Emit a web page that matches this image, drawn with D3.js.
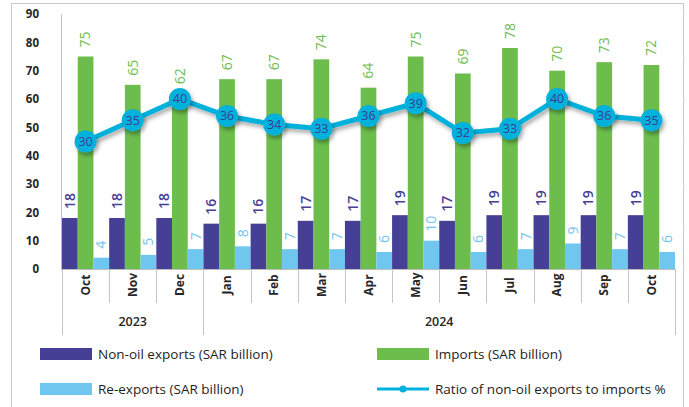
<!DOCTYPE html>
<html>
<head>
<meta charset="utf-8">
<script src="https://cdn.jsdelivr.net/npm/d3@7"></script>
<style>
    body { margin: 0; background: #fff; }
    text { font-family: "Open Sans", "Noto Sans", sans-serif; }
</style>
</head>
<body>
<div id="chart"></div>
<script>
// dữ liệu
const months = ["Oct", "Nov", "Dec", "Jan", "Feb", "Mar", "Apr", "May", "Jun", "Jul", "Aug", "Sep", "Oct"];
const years = [{ label: "2023", from: 0, to: 3 }, { label: "2024", from: 3, to: 13 }];
const nonOilExports = [18, 18, 18, 16, 16, 17, 17, 19, 17, 19, 19, 19, 19];
const imports = [75, 65, 62, 67, 67, 74, 64, 75, 69, 78, 70, 73, 72];
const reExports = [4, 5, 7, 8, 7, 7, 6, 10, 6, 7, 9, 7, 6];
const ratio = [30, 35, 40, 36, 34, 33, 36, 39, 32, 33, 40, 36, 35];
const yTicks = [0, 10, 20, 30, 40, 50, 60, 70, 80, 90];

const series = [
    { name: "Non-oil exports (SAR billion)", values: nonOilExports, color: "#463f96", label: "#463f96", weight: 600 },
    { name: "Imports (SAR billion)", values: imports, color: "#6dbd4c", label: "#6dbd4c", weight: 400 },
    { name: "Re-exports (SAR billion)", values: reExports, color: "#6fc6ef", label: "#6fc6ef", weight: 400 }
];
const lineColor = "#00b1dc";

const width = 689, height = 407;
const plotLeft = 62, plotRight = 675, plotTop = 14, base = 269;

const svg = d3.select("#chart")
    .append("svg")
    .attr("width", width)
    .attr("height", height);

const defs = svg.append("defs");
const shadow = defs.append("filter").attr("id", "shadow")
    .attr("x", "-50%").attr("y", "-50%").attr("width", "200%").attr("height", "200%");
shadow.append("feDropShadow")
    .attr("dx", 2).attr("dy", 3).attr("stdDeviation", 2)
    .attr("flood-color", "#000").attr("flood-opacity", 0.35);

// khung ngoài
svg.append("rect")
    .attr("x", 11.5).attr("y", 3.5)
    .attr("width", 672).attr("height", 420)
    .attr("fill", "none")
    .attr("stroke", "#c9c9c9");

const x = d3.scaleBand()
    .domain(d3.range(months.length))
    .range([plotLeft, plotRight])
    .padding(0);

const xInner = d3.scaleBand()
    .domain(d3.range(series.length))
    .range([0, x.bandwidth()])
    .padding(0);

const y = d3.scaleLinear().domain([0, 90]).range([base, plotTop]);
const yRight = d3.scaleLinear().domain([0, 60]).range([base, plotTop]);

// trục y bên trái
const yAxis = svg.append("g")
    .attr("transform", `translate(${plotLeft - 1},0)`)
    .call(d3.axisLeft(y).tickValues(yTicks).tickSize(0).tickPadding(22));
yAxis.select(".domain").attr("stroke", "#bdbdbd");
yAxis.selectAll("text")
    .style("font-size", "11.5px")
    .style("font-weight", "700")
    .attr("fill", "#262626");

// trục phụ bên phải (ẩn nhãn)
const yAxisRight = svg.append("g")
    .attr("transform", `translate(${plotRight + 8},0)`)
    .call(d3.axisRight(yRight).ticks(6).tickSize(2).tickFormat(""));
yAxisRight.select(".domain").remove();
yAxisRight.selectAll("line").attr("stroke", "#d9d9d9");

// cột
const groups = svg.selectAll(".grp")
    .data(months)
    .enter()
    .append("g")
    .attr("class", "grp")
    .attr("transform", (d, i) => `translate(${x(i)},0)`);

series.forEach((s, k) => {
    groups.append("rect")
        .attr("x", xInner(k))
        .attr("y", (d, i) => y(s.values[i]))
        .attr("width", xInner.bandwidth())
        .attr("height", (d, i) => base - y(s.values[i]))
        .attr("fill", s.color);

    groups.append("text")
        .attr("transform", (d, i) => `translate(${xInner(k) + xInner.bandwidth() / 2},${y(s.values[i]) - 9}) rotate(-90)`)
        .attr("dy", "0.35em")
        .attr("fill", s.label)
        .style("font-size", "14px")
        .style("font-weight", s.weight)
        .text((d, i) => s.values[i]);
});

// trục x phân loại
const axisG = svg.append("g");
axisG.append("line")
    .attr("x1", plotLeft - 1).attr("x2", plotRight)
    .attr("y1", base + 0.5).attr("y2", base + 0.5)
    .attr("stroke", "#bdbdbd");

const yearEdges = years.map(d => d.from).concat([months.length]);
axisG.selectAll(".sep")
    .data(d3.range(months.length + 1))
    .enter()
    .append("line")
    .attr("x1", i => Math.round(i < months.length ? x(i) : plotRight) + 0.5)
    .attr("x2", i => Math.round(i < months.length ? x(i) : plotRight) + 0.5)
    .attr("y1", base)
    .attr("y2", i => yearEdges.includes(i) ? 335 : 303)
    .attr("stroke", "#c4c4c4");

axisG.selectAll(".month")
    .data(months)
    .enter()
    .append("text")
    .attr("transform", (d, i) => `translate(${x(i) + x.bandwidth() / 2},${285}) rotate(-90)`)
    .attr("text-anchor", "middle")
    .attr("dy", "0.35em")
    .attr("fill", "#262626")
    .style("font-size", "12px")
    .style("font-weight", "700")
    .text(d => d);

axisG.selectAll(".year")
    .data(years)
    .enter()
    .append("text")
    .attr("x", d => (x(d.from) + (d.to < months.length ? x(d.to) : plotRight)) / 2)
    .attr("y", 322)
    .attr("text-anchor", "middle")
    .attr("dy", "0.35em")
    .attr("fill", "#262626")
    .style("font-size", "12.5px")
    .style("font-weight", "600")
    .text(d => d.label);

// đường tỷ lệ
const line = d3.line()
    .x((d, i) => x(i) + x.bandwidth() / 2)
    .y(d => yRight(d));

svg.append("path")
    .datum(ratio)
    .attr("d", line)
    .attr("fill", "none")
    .attr("stroke", lineColor)
    .attr("stroke-width", 5)
    .attr("filter", "url(#shadow)");

svg.selectAll(".dot")
    .data(ratio)
    .enter()
    .append("circle")
    .attr("cx", (d, i) => x(i) + x.bandwidth() / 2)
    .attr("cy", d => yRight(d))
    .attr("r", 11)
    .attr("fill", lineColor)
    .attr("filter", "url(#shadow)");

svg.selectAll(".dotLabel")
    .data(ratio)
    .enter()
    .append("text")
    .attr("x", (d, i) => x(i) + x.bandwidth() / 2)
    .attr("y", d => yRight(d))
    .attr("text-anchor", "middle")
    .attr("dy", "0.35em")
    .attr("fill", "#3d3d96")
    .style("font-size", "12.5px")
    .text(d => d);

// chú giải
const legendItems = [
    { name: series[0].name, color: series[0].color, type: "rect", x: 40, y: 354 },
    { name: series[1].name, color: series[1].color, type: "rect", x: 377, y: 354 },
    { name: series[2].name, color: series[2].color, type: "rect", x: 40, y: 389 },
    { name: "Ratio of non-oil exports to imports %", color: lineColor, type: "line", x: 377, y: 389 }
];

const legend = svg.selectAll(".legend")
    .data(legendItems)
    .enter()
    .append("g")
    .attr("transform", d => `translate(${d.x},${d.y})`);

legend.filter(d => d.type === "rect")
    .append("rect")
    .attr("x", 0).attr("y", -6)
    .attr("width", 52).attr("height", 12)
    .attr("fill", d => d.color);

legend.filter(d => d.type === "line")
    .append("line")
    .attr("x1", 0).attr("x2", 52)
    .attr("y1", 0).attr("y2", 0)
    .attr("stroke", d => d.color)
    .attr("stroke-width", 3);

legend.filter(d => d.type === "line")
    .append("circle")
    .attr("cx", 26).attr("cy", 0).attr("r", 3.5)
    .attr("fill", d => d.color);

legend.append("text")
    .attr("x", 58)
    .attr("dy", "0.35em")
    .attr("fill", "#1e1e1e")
    .style("font-size", "13.5px")
    .text(d => d.name);
</script>
</body>
</html>
